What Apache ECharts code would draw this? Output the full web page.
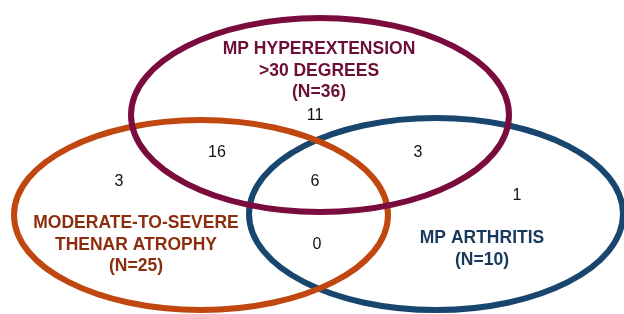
<!DOCTYPE html>
<html>
<head>
<meta charset="utf-8">
<script src="https://cdn.jsdelivr.net/npm/echarts@6/dist/echarts.min.js"></script>
<style>
  html, body { margin: 0; padding: 0; background: #fff; }
  #chart { width: 624px; height: 314px; }
</style>
</head>
<body>
<div id="chart"></div>
<script>
// sets (outer ellipses)
const setNames = ['MP HYPEREXTENSION\n>30 DEGREES\n(N=36)', 'MODERATE-TO-SEVERE\nTHENAR ATROPHY\n(N=25)', 'MP ARTHRITIS\n(N=10)'];
const setCenters = [[320, 115], [201, 215], [436, 214]];
const setRadii = [[189, 97], [187, 95], [187, 96]];
const setLabelPos = [[319, 71], [136, 245], [482, 249]];

// region counts
const regionCounts = [11, 16, 3, 6, 3, 1, 0];
const regionPos = [[315, 116], [217, 153], [418, 153], [315, 182], [119, 182], [517, 196], [317, 245]];

const lineColors = ['#7a0b3d', '#c0470f', '#18466f'];
const textColors = ['#6b0f36', '#8c2e0e', '#173a5c'];

const chart = echarts.init(document.getElementById('chart'));

// draw order: blue, orange, purple on top
const drawOrder = [2, 1, 0];

chart.setOption({
  animation: false,
  grid: { left: 0, right: 0, top: 0, bottom: 0 },
  xAxis: { type: 'value', min: 0, max: 624, show: false },
  yAxis: { type: 'value', min: 0, max: 314, inverse: true, show: false },
  series: [
    {
      type: 'custom',
      silent: true,
      data: drawOrder.map(i => [setCenters[i][0], setCenters[i][1], setRadii[i][0], setRadii[i][1], i]),
      renderItem(params, api) {
        const c = api.coord([api.value(0), api.value(1)]);
        const e = api.coord([api.value(0) + api.value(2), api.value(1) + api.value(3)]);
        const idx = api.value(4);
        return {
          type: 'ellipse',
          shape: { cx: c[0], cy: c[1], rx: Math.abs(e[0] - c[0]), ry: Math.abs(e[1] - c[1]) },
          style: { fill: 'none', stroke: lineColors[idx], lineWidth: 6 }
        };
      }
    },
    {
      type: 'custom',
      silent: true,
      data: setLabelPos.map((p, i) => [p[0], p[1], i]),
      renderItem(params, api) {
        const c = api.coord([api.value(0), api.value(1)]);
        const idx = api.value(2);
        return {
          type: 'text',
          x: c[0], y: c[1],
          style: {
            text: setNames[idx],
            fill: textColors[idx],
            font: 'bold 17.5px "Liberation Sans", Arial, sans-serif',
            lineHeight: 21.5,
            align: 'center',
            verticalAlign: 'middle'
          }
        };
      }
    },
    {
      type: 'custom',
      silent: true,
      data: regionPos.map((p, i) => [p[0], p[1], regionCounts[i]]),
      renderItem(params, api) {
        const c = api.coord([api.value(0), api.value(1)]);
        return {
          type: 'text',
          x: c[0], y: c[1],
          style: {
            text: String(api.value(2)),
            fill: '#111',
            font: '16px "Liberation Sans", Arial, sans-serif',
            align: 'center',
            verticalAlign: 'middle'
          }
        };
      }
    }
  ]
});
</script>
</body>
</html>
